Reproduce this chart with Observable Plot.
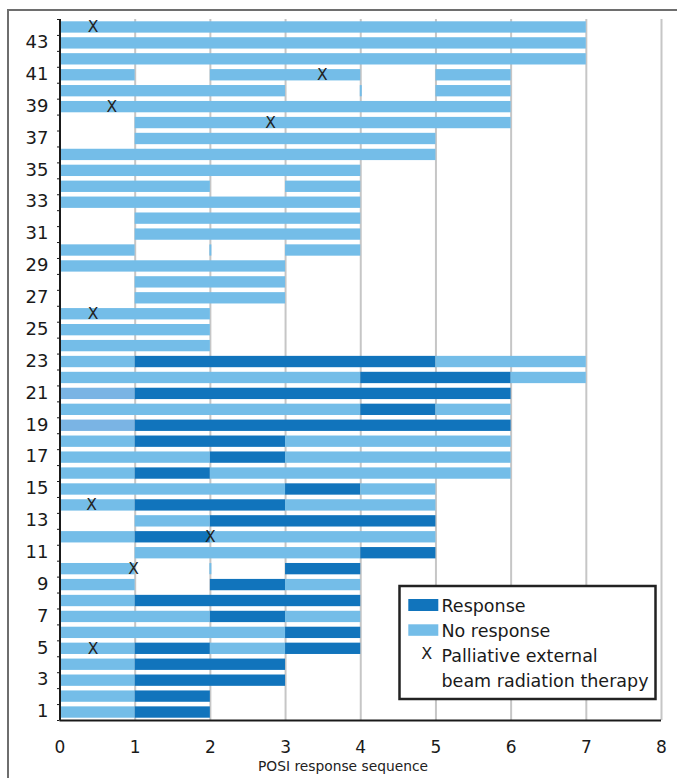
<!DOCTYPE html>
<html>
<head>
<meta charset="utf-8">
<script src="https://cdn.jsdelivr.net/npm/d3@7"></script>
<script src="https://cdn.jsdelivr.net/npm/@observablehq/plot@0.6"></script>
<style>
  html, body { margin: 0; padding: 0; background: #fff; }
  #wrap { position: relative; width: 677px; height: 778px; overflow: hidden; background: #fff; }
  #wrap > svg { position: absolute; left: 0; top: 0; }
</style>
</head>
<body>
<div id="wrap"></div>
<script>
// ---- DATA ----
// One string per patient row (row 1 first). Each character is one step of the
// POSI response sequence: D = response, L = no response, M = no response (muted shade), . = nothing
const rowPatterns = [
  "LD",       // 1
  "LD",       // 2
  "LDD",      // 3
  "LDD",      // 4
  "LDLD",     // 5
  "LLLD",     // 6
  "LLDL",     // 7
  "LDDD",     // 8
  "L.DL",     // 9
  "L..D",     // 10
  ".LLLD",    // 11
  "LDLLL",    // 12
  ".LDDD",    // 13
  "LDDLL",    // 14
  "LLLDL",    // 15
  "LDLLLL",   // 16
  "LLDLLL",   // 17
  "LDDLLL",   // 18
  "MDDDDD",   // 19
  "LLLLDL",   // 20
  "MDDDDD",   // 21
  "LLLLDDL",  // 22
  "LDDDDLL",  // 23
  "LL",       // 24
  "LL",       // 25
  "LL",       // 26
  ".LL",      // 27
  ".LL",      // 28
  "LLL",      // 29
  "L..L",     // 30
  ".LLL",     // 31
  ".LLL",     // 32
  "LLLL",     // 33
  "LL.L",     // 34
  "LLLL",     // 35
  "LLLLL",    // 36
  ".LLLL",    // 37
  ".LLLLL",   // 38
  "LLLLLL",   // 39
  "LLL..L",   // 40
  "L.LL.L",   // 41
  "LLLLLLL",  // 42
  "LLLLLLL",  // 43
  "LLLLLLL"   // 44
];

// Palliative external beam radiation therapy markers
const xMarkRows = [44, 41, 39, 38, 26, 14, 12, 10, 5];
const xMarkPos  = [0.44, 3.49, 0.69, 2.8, 0.44, 0.42, 2.0, 0.98, 0.44];

// very short "no response" slivers
const sliverRows = [40, 30, 10];
const sliverPos  = [4, 2, 2];

const xTicks = [0, 1, 2, 3, 4, 5, 6, 7, 8];
const yTicks = [1, 3, 5, 7, 9, 11, 13, 15, 17, 19, 21, 23, 25, 27, 29, 31, 33, 35, 37, 39, 41, 43];

const typeNames  = ["D", "L", "M"];
const typeColors = ["#1174bc", "#74bde8", "#7ab4e4"];

// ---- build tables ----
const segments = [];
rowPatterns.forEach((p, i) => {
  const row = i + 1;
  let start = 0;
  for (let k = 1; k <= p.length; k++) {
    if (k === p.length || p[k] !== p[start]) {
      if (p[start] !== ".") segments.push({row, x1: start, x2: k, type: p[start]});
      start = k;
    }
  }
});
const xMarks = xMarkRows.map((r, i) => ({row: r, x: xMarkPos[i]}));
const slivers = sliverRows.map((r, i) => ({row: r, x: sliverPos[i]}));
const halfTicks = d3.range(0.5, 45, 1);

const FONT = "DejaVu Sans";

const chart = Plot.plot({
  width: 677,
  height: 778,
  marginLeft: 59.5,
  marginRight: 16,
  marginTop: 19,
  marginBottom: 58,
  style: {fontFamily: FONT, background: "white", color: "#1a1a1a", overflow: "visible"},
  x: {domain: [0, 8]},
  y: {domain: [0.5, 44.5]},
  color: {domain: typeNames, range: typeColors},
  marks: [
    Plot.ruleX(xTicks.slice(1), {stroke: "#c6c6c6", strokeWidth: 2}),
    Plot.rect(segments, {
      x1: "x1", x2: "x2",
      y1: d => d.row - 0.5, y2: d => d.row + 0.5,
      insetTop: 2.3, insetBottom: 2.3,
      fill: "type"
    }),
    Plot.ruleX(slivers, {x: "x", y1: d => d.row - 0.35, y2: d => d.row + 0.35, stroke: typeColors[1], strokeWidth: 2}),
    Plot.text(xMarks, {x: "x", y: "row", text: () => "X", fontSize: 15.5, fill: "#222"}),
    Plot.ruleY([0.5], {stroke: "#1a1a1a", strokeWidth: 2}),
    Plot.ruleX([0], {stroke: "#1a1a1a", strokeWidth: 2}),
    Plot.axisY(halfTicks, {tickSize: 2.5, tickFormat: () => "", label: null, stroke: "#1a1a1a"}),
    Plot.axisY(yTicks, {tickSize: 0, tickPadding: 11.5, fontSize: 18, label: null, fill: "#1a1a1a", dy: -1}),
    Plot.axisX(xTicks, {tickSize: 0, tickPadding: 20.6, fontSize: 17, label: null, fill: "#1a1a1a"})
  ]
});
document.getElementById("wrap").appendChild(chart);

// ---- overlay: outer frame, axis title, legend ----
const ov = d3.select("#wrap").append("svg")
  .attr("width", 677).attr("height", 778)
  .style("pointer-events", "none")
  .attr("font-family", FONT);

ov.append("line").attr("x1", 7).attr("x2", 677).attr("y1", 10).attr("y2", 10)
  .attr("stroke", "#6e6e6e").attr("stroke-width", 2);
ov.append("line").attr("x1", 8).attr("x2", 8).attr("y1", 9).attr("y2", 778)
  .attr("stroke", "#6e6e6e").attr("stroke-width", 2);

ov.append("text").attr("x", 343).attr("y", 770.5)
  .attr("text-anchor", "middle").attr("font-size", 13.8).attr("fill", "#222")
  .text("POSI response sequence");

const lg = ov.append("g");
lg.append("rect").attr("x", 399.5).attr("y", 586).attr("width", 256).attr("height", 113)
  .attr("fill", "white").attr("stroke", "#222").attr("stroke-width", 2.5);
lg.append("rect").attr("x", 408.3).attr("y", 599).attr("width", 30).attr("height", 12).attr("fill", typeColors[0]);
lg.append("rect").attr("x", 408.3).attr("y", 624.3).attr("width", 30).attr("height", 11.5).attr("fill", typeColors[1]);
lg.append("text").attr("x", 426.7).attr("y", 658.5).attr("text-anchor", "middle")
  .attr("font-size", 16).attr("fill", "#222").text("X");
const legendLines = [
  ["Response", 612.3],
  ["No response", 637.3],
  ["Palliative external", 662.3],
  ["beam radiation therapy", 686.8]
];
legendLines.forEach(([t, y]) => {
  lg.append("text").attr("x", 441.5).attr("y", y).attr("font-size", 17.5).attr("fill", "#1a1a1a").text(t);
});
</script>
</body>
</html>
